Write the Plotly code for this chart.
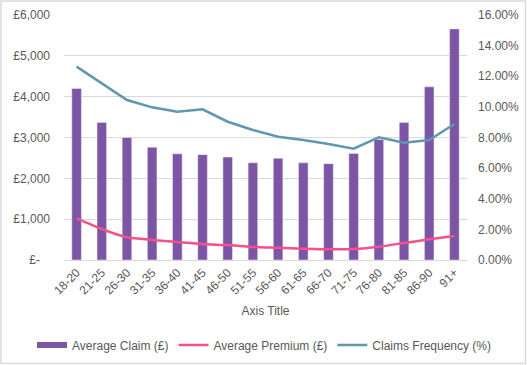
import plotly.graph_objects as go
from plotly.subplots import make_subplots

categories = ["18-20", "21-25", "26-30", "31-35", "36-40", "41-45", "46-50", "51-55",
              "56-60", "61-65", "66-70", "71-75", "76-80", "81-85", "86-90", "91+"]
average_claim = [4200, 3370, 3000, 2760, 2600, 2580, 2520, 2380,
                 2490, 2380, 2360, 2610, 2950, 3370, 4240, 5660]
average_premium = [1020, 760, 555, 490, 440, 390, 365, 320,
                   300, 278, 262, 270, 326, 416, 506, 588]
claims_frequency = [0.1263, 0.1154, 0.1045, 0.0997, 0.0969, 0.0984, 0.0903, 0.0849,
                    0.0805, 0.0784, 0.0758, 0.0727, 0.0801, 0.0766, 0.0784, 0.0888]

left_ticks = [0, 1000, 2000, 3000, 4000, 5000, 6000]
left_ticktext = ["£-\u00a0\u00a0\u00a0", "£1,000", "£2,000", "£3,000", "£4,000", "£5,000", "£6,000"]
right_ticks = [0, 0.02, 0.04, 0.06, 0.08, 0.10, 0.12, 0.14, 0.16]

PURPLE = "#7C55A5"
PINK = "#F4508A"
TEAL = "#5F98AE"
TXT = "#595959"
GRID = "#D9D9D9"

fig = make_subplots(specs=[[{"secondary_y": True}]])

fig.add_trace(go.Bar(x=categories, y=average_claim, marker_color=PURPLE,
                     name="Average Claim (£)", showlegend=False), secondary_y=False)
# legend-only entry to mimic the wide Excel legend swatch
fig.add_trace(go.Scatter(x=[None], y=[None], mode="lines", line=dict(color=PURPLE, width=6),
                         name="Average Claim (£)"), secondary_y=False)
fig.add_trace(go.Scatter(x=categories, y=average_premium, mode="lines",
                         line=dict(color=PINK, width=2.5, shape="spline", smoothing=0.6),
                         name="Average Premium (£)"), secondary_y=False)
fig.add_trace(go.Scatter(x=categories, y=claims_frequency, mode="lines",
                         line=dict(color=TEAL, width=2.5),
                         name="Claims Frequency (%)"), secondary_y=True)

W, H = 527, 365
ml, mr, mt, mb = 64, 60, 15, 105
pw = W - ml - mr
ph = H - mt - mb
fig.update_layout(
    width=W, height=H,
    margin=dict(l=ml, r=mr, t=mt, b=mb, autoexpand=False),
    paper_bgcolor="white", plot_bgcolor="white",
    font=dict(family="Liberation Sans, Arial, sans-serif", size=12, color=TXT),
    bargap=0.62,
    showlegend=True,
    legend=dict(orientation="h", xref="paper", yref="paper",
                x=(32 - ml) / pw, xanchor="left", y=-(345 - (mt + ph)) / ph, yanchor="middle",
                font=dict(size=12, color=TXT), tracegroupgap=0,
                traceorder="normal"),
)
fig.update_xaxes(domain=[0, 1], tickangle=-45, showgrid=False, showline=True, linecolor=GRID,
                 ticks="", tickfont=dict(size=12, color=TXT), automargin=False,
                 title=dict(text="Axis Title", font=dict(size=12, color=TXT), standoff=10))
fig.update_yaxes(range=[0, 6000], tickvals=left_ticks, ticktext=left_ticktext,
                 showgrid=True, gridcolor=GRID, gridwidth=1, zeroline=False,
                 showline=False, ticks="", ticklabelstandoff=13, automargin=False,
                 tickfont=dict(size=12, color=TXT), secondary_y=False)
fig.update_yaxes(range=[0, 0.16], tickvals=right_ticks, tickformat=".2%",
                 showgrid=False, zeroline=False, showline=False, ticks="",
                 ticklabelstandoff=10, automargin=False,
                 tickfont=dict(size=12, color=TXT), secondary_y=True)

fig.add_shape(type="rect", xref="paper", yref="paper",
              x0=(1 - ml) / pw, x1=(W - ml - 1.5) / pw,
              y0=-(mb - 1.5) / ph, y1=1 + (mt - 1) / ph,
              line=dict(color="#D9D9D9", width=1.5), layer="below")

fig.write_html("out.html", config={"displayModeBar": False},
               post_script="document.body.style.margin='0';")
